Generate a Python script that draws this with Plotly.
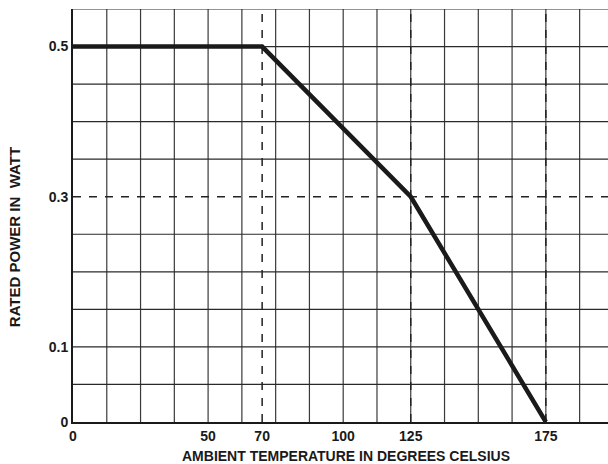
import plotly.graph_objects as go

# Data
temp_c = [0, 70, 125, 175]
power_w = [0.5, 0.5, 0.3, 0.0]

x_tick_vals = [0, 50, 70, 100, 125, 175]
x_tick_text = ["0", "50", "70", "100", "125", "175"]
y_tick_vals = [0, 0.1, 0.3, 0.5]
y_tick_text = ["0", "0.1", "0.3", "0.5"]

x_grid = [12.5 * i for i in range(1, 16)]
y_grid = [0.05, 0.1, 0.15, 0.2, 0.25, 0.35, 0.4, 0.45, 0.5, 0.55]
x_dashed = [70, 125, 175]
y_dashed = [0.3]

X_MAX = 198
Y_MAX = 0.55

FONT = "Liberation Sans, Arial, sans-serif"

fig = go.Figure()

shapes = []
for gx in x_grid:
    shapes.append(dict(type="line", xref="x", yref="y", x0=gx, x1=gx, y0=0, y1=Y_MAX,
                       line=dict(color="#3a3a3a", width=1.2), layer="below"))
for gy in y_grid:
    shapes.append(dict(type="line", xref="x", yref="y", x0=0, x1=X_MAX, y0=gy, y1=gy,
                       line=dict(color="#2a2a2a", width=1.2), layer="below"))
for dx in x_dashed:
    shapes.append(dict(type="line", xref="x", yref="y", x0=dx, x1=dx, y0=0, y1=Y_MAX,
                       line=dict(color="#222222", width=1.5, dash="8px,8px"), layer="below"))
for dy in y_dashed:
    shapes.append(dict(type="line", xref="x", yref="y", x0=0, x1=X_MAX, y0=dy, y1=dy,
                       line=dict(color="#222222", width=1.5, dash="8px,8px"), layer="below"))

fig.add_trace(go.Scatter(x=temp_c, y=power_w, mode="lines",
                         line=dict(color="#1a1a1a", width=4.5), hoverinfo="skip",
                         showlegend=False))

font_tick = dict(family=FONT, size=14, color="#1a1a1a")

fig.update_layout(
    width=608, height=464,
    margin=dict(l=73, r=0, t=9, b=42),
    paper_bgcolor="white", plot_bgcolor="white",
    shapes=shapes,
    xaxis=dict(range=[0, X_MAX], tickvals=x_tick_vals,
               ticktext=["<b>%s</b>" % t for t in x_tick_text],
               showgrid=False, zeroline=False, showline=True, linecolor="#1a1a1a",
               linewidth=2, ticks="", tickfont=font_tick, fixedrange=True,
               automargin=False),
    yaxis=dict(range=[0, Y_MAX], tickvals=y_tick_vals,
               ticktext=["<b>%s</b>" % t for t in y_tick_text],
               showgrid=False, zeroline=False, showline=True, linecolor="#1a1a1a",
               linewidth=2, ticks="", tickfont=font_tick, fixedrange=True,
               automargin=False),
    annotations=[
        dict(text="<b>AMBIENT TEMPERATURE IN DEGREES CELSIUS</b>", xref="paper", yref="paper",
             x=0.511, y=-0.082, xanchor="center", yanchor="middle", showarrow=False,
             font=dict(family=FONT, size=14, color="#1a1a1a")),
        dict(text="<b>RATED POWER IN  WATT</b>", xref="paper", yref="paper",
             x=-0.108, y=0.448, xanchor="center", yanchor="middle", showarrow=False,
             textangle=-90,
             font=dict(family=FONT, size=15, color="#1a1a1a")),
    ],
)

fig.write_html("out.html", config={"displayModeBar": False},
               post_script="document.body.style.margin='0';document.body.style.padding='0';window.dispatchEvent(new Event('resize'));")
